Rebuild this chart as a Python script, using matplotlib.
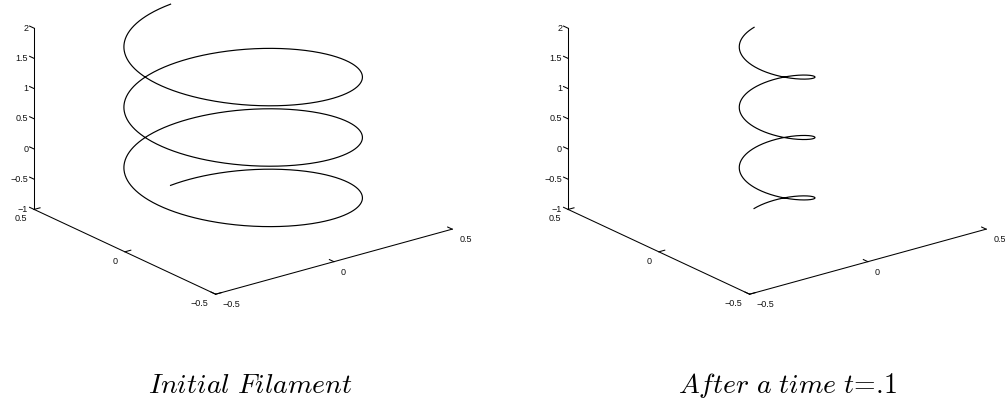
import numpy as np
import matplotlib
matplotlib.use("Agg")
import matplotlib.pyplot as plt
from matplotlib.transforms import offset_copy
from mpl_toolkits.mplot3d import proj3d

# Filament: helix about the z axis, x = r sin(2*pi*k*z), y = r cos(2*pi*k*z)
z_start, z_end = -1.0, 2.0
turns_per_unit = 1.0
radii = [0.4, 0.127]
panel_titles = [r"$\mathit{Initial\ Filament}$", r"$\mathit{After\ a\ time\ t}$=.1"]

x_limits = (-0.5, 0.5)
y_limits = (-0.5, 0.5)
z_limits = (-1.0, 2.0)
x_ticks = [-0.5, 0.0, 0.5]
y_ticks = [-0.5, 0.0, 0.5]
z_ticks = [-1.0, -0.5, 0.0, 0.5, 1.0, 1.5, 2.0]
x_tick_labels = ["\u22120.5", "0", "0.5"]
y_tick_labels = ["\u22120.5", "0", "0.5"]
z_tick_labels = ["\u22121", "\u22120.5", "0", "0.5", "1", "1.5", "2"]

W, H = 1005, 402
fig = plt.figure(figsize=(W / 100, H / 100), dpi=100)

# square 3D panels, one per filament state
panel_rects = [[0.0117, 0.1017, 0.4484, 1.1211],
               [0.5430, 0.1017, 0.4484, 1.1211]]
title_x = [250, 787]

tick_font = dict(family="Liberation Sans", fontsize=6.5, color="#111111")
tick_len = 0.025
line_kw = dict(color="black", lw=0.75, clip_on=False)


def tick_label(ax, x, y, z, text, dx, dy, **kw):
    """Label a 3D point with flat text, shifted by (dx, dy) pixels on screen."""
    px, py, _ = proj3d.proj_transform(x, y, z, ax.get_proj())
    ax.text2D(px, py, text, transform=offset_copy(ax.transData, fig=fig, x=dx, y=dy, units="dots"),
              **kw, **tick_font)


for rect, r, title, tx in zip(panel_rects, radii, panel_titles, title_x):
    ax = fig.add_axes(rect, projection="3d", proj_type="ortho")
    ax.view_init(elev=21, azim=-127.5)
    ax.set_box_aspect((1, 1, 0.651))
    ax.set_xlim(x_limits)
    ax.set_ylim(y_limits)
    ax.set_zlim(z_limits)
    ax.set_axis_off()

    # the filament
    s = np.linspace(z_start, z_end, 1500)
    phase = 2 * np.pi * turns_per_unit * s
    ax.plot(r * np.sin(phase), r * np.cos(phase), s, color="black", lw=0.85, clip_on=False)

    # box edges carrying the axes: z at the left corner, x and y along the floor front
    x0, x1 = x_limits
    y0, y1 = y_limits
    z0, z1 = z_limits
    ax.plot([x0, x0], [y1, y1], [z0, z1], **line_kw)
    ax.plot([x0, x0], [y0, y1], [z0, z0], **line_kw)
    ax.plot([x0, x1], [y0, y0], [z0, z0], **line_kw)

    for zt, lab in zip(z_ticks, z_tick_labels):
        ax.plot([x0, x0], [y1, y1 + tick_len], [zt, zt], **line_kw)
        tick_label(ax, x0, y1, zt, lab, -6, 1, ha="right", va="center")
    for yt, lab in zip(y_ticks, y_tick_labels):
        ax.plot([x0, x0 + tick_len], [yt, yt], [z0, z0], **line_kw)
        tick_label(ax, x0, yt, z0, lab, -7, -4, ha="right", va="top")
    for xt, lab in zip(x_ticks, x_tick_labels):
        ax.plot([xt, xt], [y0, y0 + tick_len], [z0, z0], **line_kw)
        tick_label(ax, xt, y0, z0, lab, 7, -5, ha="left", va="top")

    fig.text(tx / W, 9 / H, title, fontsize=20, ha="center", va="baseline",
             family="cmr10", math_fontfamily="cm")

fig.savefig("out.png", dpi=100)
